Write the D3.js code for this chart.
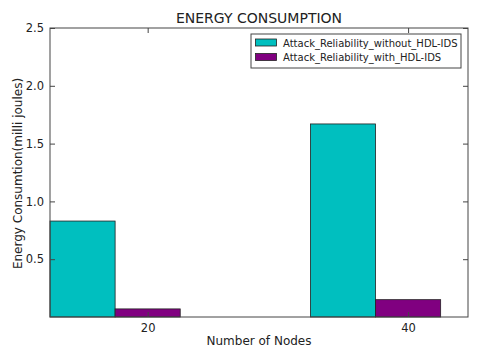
<!DOCTYPE html>
<html><head><meta charset="utf-8">
<script src="https://cdn.jsdelivr.net/npm/d3@7"></script>
<style>body{margin:0;background:#fff}svg{display:block}text{font-family:"DejaVu Sans",sans-serif;fill:#222}</style>
</head><body><svg id="c" width="480" height="360"></svg>
<script>
const categories = [20, 40];
const seriesNames = ["Attack_Reliability_without_HDL-IDS", "Attack_Reliability_with_HDL-IDS"];
const withoutIDS = [0.83, 1.67];
const withIDS = [0.07, 0.15];
const yTicks = [0.5, 1.0, 1.5, 2.0, 2.5];
const colors = ["#00bfbf", "#800080"];

const svg = d3.select("#c");
const m = {l:50, r:468, t:28, b:317};
const x = d3.scaleLinear().domain([12.5, 44.6]).range([m.l, m.r]);
const y = d3.scaleLinear().domain([0, 2.5]).range([m.b, m.t]);
const bw = 5;
const series = [withoutIDS, withIDS];

series.forEach((vals, si) => {
  svg.selectAll(null).data(vals).enter().append("rect")
    .attr("x", (d,i) => x(categories[i] - 7.5 + si*bw))
    .attr("width", x(bw) - x(0))
    .attr("y", d => y(d))
    .attr("height", d => y(0) - y(d))
    .attr("fill", colors[si]).attr("stroke", "#222").attr("stroke-width", 0.8);
});

// frame
svg.append("rect").attr("x", m.l).attr("y", m.t).attr("width", m.r-m.l).attr("height", m.b-m.t)
  .attr("fill", "none").attr("stroke", "#444").attr("stroke-width", 1);

// axes
const ax = svg.append("g").attr("transform", `translate(0,${m.b})`)
  .call(d3.axisBottom(x).tickValues(categories).tickSize(-5).tickPadding(7).tickFormat(d3.format("d")));
const axT = svg.append("g").attr("transform", `translate(0,${m.t})`)
  .call(d3.axisTop(x).tickValues(categories).tickSize(-5).tickFormat(""));
const ay = svg.append("g").attr("transform", `translate(${m.l},0)`)
  .call(d3.axisLeft(y).tickValues(yTicks).tickSize(-5).tickPadding(6).tickFormat(d3.format(".1f")));
const ayR = svg.append("g").attr("transform", `translate(${m.r},0)`)
  .call(d3.axisRight(y).tickValues(yTicks).tickSize(-5).tickFormat(""));
[ax, axT, ay, ayR].forEach(g => {
  g.select(".domain").remove();
  g.selectAll(".tick line").attr("stroke", "#444");
  g.selectAll("text").attr("font-size", 11.5).attr("fill", "#222").style("font-family", "DejaVu Sans");
});

// title and labels
svg.append("text").attr("x", (m.l+m.r)/2).attr("y", 23).attr("text-anchor", "middle")
  .attr("font-size", 14).text("ENERGY CONSUMPTION");
svg.append("text").attr("x", (m.l+m.r)/2).attr("y", 345).attr("text-anchor", "middle")
  .attr("font-size", 12).text("Number of Nodes");
svg.append("text").attr("transform", `translate(22,${(m.t+m.b)/2+1}) rotate(-90)`).attr("text-anchor", "middle")
  .attr("font-size", 12).text("Energy Consumtion(milli joules)");

// legend
const lg = svg.append("g");
lg.append("rect").attr("x", 251).attr("y", 34).attr("width", 210).attr("height", 34)
  .attr("fill", "#fff").attr("stroke", "#444").attr("stroke-width", 1);
seriesNames.forEach((n, i) => {
  lg.append("rect").attr("x", 255.5).attr("y", 39 + i*14.5).attr("width", 21).attr("height", 7)
    .attr("fill", colors[i]).attr("stroke", "#222").attr("stroke-width", 0.8);
  lg.append("text").attr("x", 283).attr("y", 46.5 + i*14.5).attr("font-size", 10).text(n);
});
</script></body></html>
